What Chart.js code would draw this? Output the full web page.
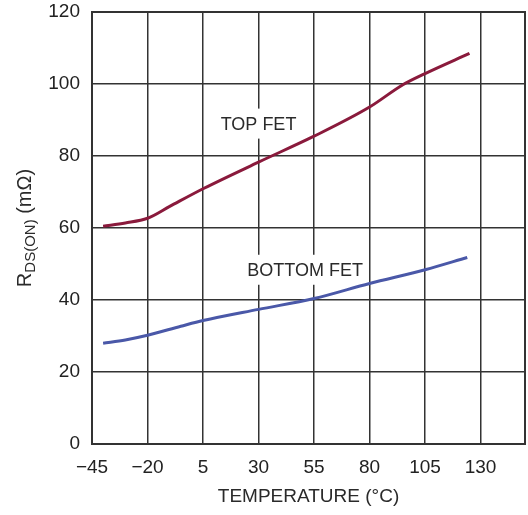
<!DOCTYPE html>
<html><head><meta charset="utf-8">
<script src="https://cdn.jsdelivr.net/npm/chart.js@4/dist/chart.umd.min.js"></script>
<style>html,body{margin:0;padding:0;background:#fff}</style>
</head><body>
<canvas id="c" width="528" height="515" style="display:block;width:528px;height:515px"></canvas>
<script>
// ---- data ----
const xTickValues = [-45, -20, 5, 30, 55, 80, 105, 130];
const xTickLabels = ['\u221245', '\u221220', '5', '30', '55', '80', '105', '130'];
const yTickValues = [0, 20, 40, 60, 80, 100, 120];
const xMin = -45, xMax = 150, yMin = 0, yMax = 120;

const topFetTemp = [-40, -30, -20, -10, 5, 30, 55, 80, 95, 105, 125];
const topFetRds  = [60.5, 61.4, 62.7, 66.0, 70.9, 78.3, 85.5, 93.6, 99.8, 102.9, 108.5];
const bottomFetTemp = [-40, -30, -20, -5, 5, 30, 55, 80, 105, 124];
const bottomFetRds  = [28.0, 28.9, 30.2, 32.7, 34.3, 37.4, 40.4, 44.6, 48.4, 51.8];

const seriesNames = ['TOP FET', 'BOTTOM FET'];
const seriesLabelTemp = [30, 51];
const seriesLabelRds = [89, 48.4];

const xTitle = 'TEMPERATURE (\u00B0C)';
const yTitleParts = ['R', 'DS(ON)', ' (m\u03A9)'];

const FONT = "'Liberation Sans', Arial, sans-serif";

const toPts = (xs, ys) => xs.map((x, i) => ({x, y: ys[i]}));

const labelPlugin = {
  id: 'labels',
  beforeDatasetsDraw(chart) {
    const {ctx, scales: {x, y}} = chart;
    ctx.save();
    ctx.font = '18px ' + FONT;
    ctx.textAlign = 'center';
    ctx.textBaseline = 'middle';
    seriesNames.forEach((t, i) => {
      const px = x.getPixelForValue(seriesLabelTemp[i]);
      const py = y.getPixelForValue(seriesLabelRds[i]);
      const w = ctx.measureText(t).width;
      ctx.fillStyle = '#fff';
      ctx.fillRect(px - w / 2 - 5, py - 15, w + 10, 30);
      ctx.fillStyle = '#2a2a2a';
      ctx.fillText(t, px, py + 1);
    });
    ctx.restore();
  },
  afterDraw(chart) {
    const {ctx, chartArea} = chart;
    ctx.save();
    ctx.strokeStyle = '#333';
    ctx.lineWidth = 2;
    ctx.strokeRect(chartArea.left, chartArea.top, chartArea.right - chartArea.left, chartArea.bottom - chartArea.top);
    const cy = (chartArea.top + chartArea.bottom) / 2;
    ctx.translate(25, cy);
    ctx.rotate(-Math.PI / 2);
    const fMain = '20px ' + FONT, fSub = '15px ' + FONT;
    ctx.font = fMain; const w1 = ctx.measureText(yTitleParts[0]).width;
    ctx.font = fSub; const w2 = ctx.measureText(yTitleParts[1]).width;
    ctx.font = fMain; const w3 = ctx.measureText(yTitleParts[2]).width;
    let sx = -(w1 + w2 + w3) / 2;
    ctx.fillStyle = '#2a2a2a';
    ctx.textBaseline = 'alphabetic';
    ctx.textAlign = 'left';
    ctx.font = fMain; ctx.fillText(yTitleParts[0], sx, 6); sx += w1;
    ctx.font = fSub; ctx.fillText(yTitleParts[1], sx, 10); sx += w2;
    ctx.font = fMain; ctx.fillText(yTitleParts[2], sx, 6);
    ctx.restore();
  }
};

new Chart(document.getElementById('c'), {
  type: 'line',
  data: {
    datasets: [
      {label: seriesNames[0], data: toPts(topFetTemp, topFetRds), borderColor: '#8a1a3c', borderWidth: 3, pointRadius: 0, cubicInterpolationMode: 'monotone', fill: false},
      {label: seriesNames[1], data: toPts(bottomFetTemp, bottomFetRds), borderColor: '#4a58a8', borderWidth: 3, pointRadius: 0, cubicInterpolationMode: 'monotone', fill: false}
    ]
  },
  options: {
    responsive: false,
    animation: false,
    devicePixelRatio: 1,
    layout: {padding: {top: 12, right: 3, left: 0, bottom: 0}},
    plugins: {legend: {display: false}, tooltip: {enabled: false}},
    scales: {
      x: {
        type: 'linear', min: xMin, max: xMax,
        afterBuildTicks: s => { s.ticks = xTickValues.map(v => ({value: v})); },
        afterFit: s => { s.height = 71; s.paddingLeft = 0; s.paddingRight = 0; },
        ticks: {
          autoSkip: false, maxRotation: 0, padding: 12,
          color: '#222', font: {family: FONT, size: 19},
          callback: v => { const i = xTickValues.indexOf(v); return i >= 0 ? xTickLabels[i] : ''; }
        },
        grid: {color: '#333', lineWidth: 1.5, drawTicks: false},
        border: {color: '#333', width: 2},
        title: {display: true, text: xTitle, color: '#2a2a2a', font: {family: FONT, size: 19}, padding: {top: 4, bottom: 7}}
      },
      y: {
        type: 'linear', min: yMin, max: yMax,
        afterBuildTicks: s => { s.ticks = yTickValues.map(v => ({value: v})); },
        afterFit: s => { s.width = 92; s.paddingTop = 0; s.paddingBottom = 0; },
        ticks: {padding: 12, color: '#222', font: {family: FONT, size: 19}},
        grid: {color: '#333', lineWidth: 1.5, drawTicks: false},
        border: {color: '#333', width: 2}
      }
    }
  },
  plugins: [labelPlugin]
});
</script>
</body></html>
